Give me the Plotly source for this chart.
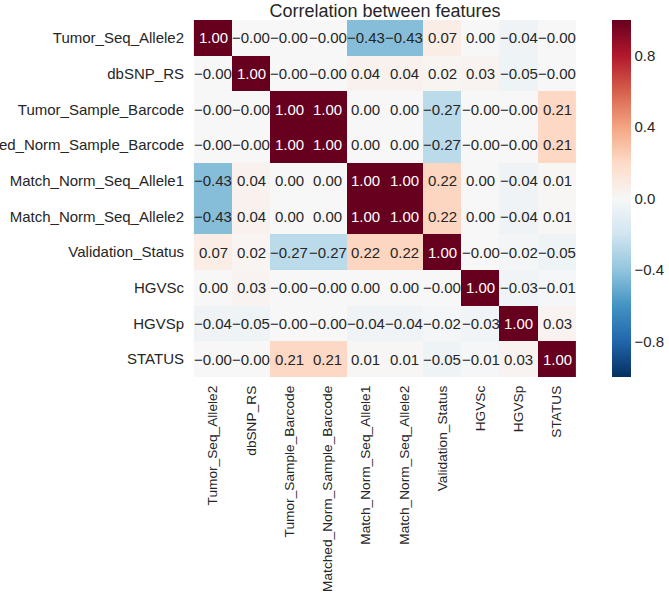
import plotly.graph_objects as go

features = ["Tumor_Seq_Allele2", "dbSNP_RS", "Tumor_Sample_Barcode",
            "Matched_Norm_Sample_Barcode", "Match_Norm_Seq_Allele1",
            "Match_Norm_Seq_Allele2", "Validation_Status", "HGVSc", "HGVSp", "STATUS"]

corr = [
    [1.00, -0.001, -0.001, -0.001, -0.43, -0.43, 0.07, 0.00, -0.04, -0.001],
    [-0.001, 1.00, -0.001, -0.001, 0.04, 0.04, 0.02, 0.03, -0.05, -0.001],
    [-0.001, -0.001, 1.00, 1.00, 0.00, 0.00, -0.27, -0.001, -0.001, 0.21],
    [-0.001, -0.001, 1.00, 1.00, 0.00, 0.00, -0.27, -0.001, -0.001, 0.21],
    [-0.43, 0.04, 0.00, 0.00, 1.00, 1.00, 0.22, 0.00, -0.04, 0.01],
    [-0.43, 0.04, 0.00, 0.00, 1.00, 1.00, 0.22, 0.00, -0.04, 0.01],
    [0.07, 0.02, -0.27, -0.27, 0.22, 0.22, 1.00, -0.001, -0.02, -0.05],
    [0.00, 0.03, -0.001, -0.001, 0.00, 0.00, -0.001, 1.00, -0.03, -0.01],
    [-0.04, -0.05, -0.001, -0.001, -0.04, -0.04, -0.02, -0.03, 1.00, 0.03],
    [-0.001, -0.001, 0.21, 0.21, 0.01, 0.01, -0.05, -0.01, 0.03, 1.00],
]

colorbar_ticks = [-0.8, -0.4, 0.0, 0.4, 0.8]

rdbu_r = ['#053061', '#2166ac', '#4393c3', '#92c5de', '#d1e5f0', '#f7f7f7',
          '#fddbc7', '#f4a582', '#d6604d', '#b2182b', '#67001f']
colorscale = [[i / (len(rdbu_r) - 1), c] for i, c in enumerate(rdbu_r)]

FONT = "Liberation Sans, Arial, sans-serif"
TXT = "#262626"

fig = go.Figure(go.Heatmap(
    z=corr, x=features, y=features,
    zmin=-1, zmax=1, colorscale=colorscale,
    xgap=0, ygap=0, hoverinfo="skip",
    colorbar=dict(
        x=1.088, xanchor="left", y=0.5, yanchor="middle",
        len=1.0, lenmode="fraction", thickness=19, xpad=0, ypad=0,
        outlinewidth=0, tickvals=colorbar_ticks, tickformat=".1f",
        ticks="", ticklen=2,
        tickfont=dict(family=FONT, size=15, color=TXT),
    ),
))

for i, row in enumerate(corr):
    for j, v in enumerate(row):
        label = f"{v:.2f}".replace("-", "\u2212")
        fig.add_annotation(
            x=features[j], y=features[i], text=label, showarrow=False,
            font=dict(family=FONT, size=15, color="white" if abs(v) > 0.6 else TXT),
        )

fig.update_layout(
    width=669, height=598,
    margin=dict(l=192, r=91, t=20, b=221, autoexpand=False),
    paper_bgcolor="white", plot_bgcolor="white",
    title=dict(text="Correlation between features", x=0.5, xref="paper",
               xanchor="center", y=1 - 10.5 / 598, yanchor="middle",
               font=dict(family=FONT, size=18, color=TXT)),
    font=dict(family=FONT, size=15, color=TXT),
)
fig.update_xaxes(tickangle=-90, showgrid=False, zeroline=False, showline=False,
                 ticks="", ticklabelstandoff=5, automargin=False,
                 tickfont=dict(family=FONT, size=13.7, color=TXT))
fig.update_yaxes(autorange="reversed", showgrid=False, zeroline=False, showline=False,
                 ticks="", ticklabelstandoff=7, automargin=False,
                 tickfont=dict(family=FONT, size=15, color=TXT))

fig.write_html("out.html")
